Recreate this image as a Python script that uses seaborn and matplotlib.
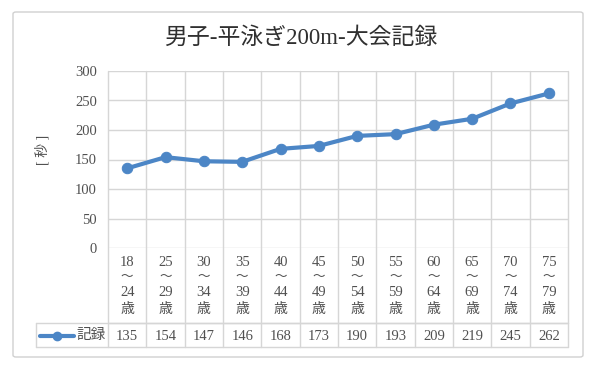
import numpy as np
import pandas as pd
import matplotlib
matplotlib.use("Agg")
import matplotlib.pyplot as plt
import seaborn as sns
from matplotlib.patches import FancyBboxPatch
from matplotlib.lines import Line2D

# --- data ---
age_from = ["18", "25", "30", "35", "40", "45", "50", "55", "60", "65", "70", "75"]
age_to = ["24", "29", "34", "39", "44", "49", "54", "59", "64", "69", "74", "79"]
records = [135, 154, 147, 146, 168, 173, 190, 193, 209, 219, 245, 262]
series_name = "記録"
title = "男子-平泳ぎ200m-大会記録"
y_label = "[ 秒 ]"
y_ticks = [0, 50, 100, 150, 200, 250, 300]

df = pd.DataFrame({"pos": np.arange(len(records)), "val": records})

sns.set_theme(style="white")
plt.rcParams['font.family'] = ['Liberation Serif', 'Noto Sans CJK JP', 'DejaVu Sans']

LINE = "#4c86c6"
GRID = "#d6d6d6"
TXT = "#505050"

fig = plt.figure(figsize=(5.99, 3.67), dpi=100)
fig.patch.set_facecolor("white")

# outer chart border
fig.patches.append(FancyBboxPatch((13 / 599, 1 - 357 / 367), 570 / 599, 345 / 367,
                                  boxstyle="round,pad=0,rounding_size=0.005",
                                  transform=fig.transFigure, fill=False,
                                  edgecolor="#d0d0d0", linewidth=1.0))

left, right = 108 / 599, 568 / 599
bottom, top = 1 - 248 / 367, 1 - 71 / 367
ax = fig.add_axes([left, bottom, right - left, top - bottom])

sns.lineplot(data=df, x="pos", y="val", ax=ax, color=LINE, linewidth=3,
             marker="o", markersize=7.5, markeredgecolor=LINE)

n = len(records)
ax.set_xlim(-0.5, n - 0.5)
ax.set_ylim(0, 300)
ax.set_yticks(y_ticks)
ax.set_yticklabels([str(t) for t in y_ticks], color=TXT, fontsize=10.5)
ax.set_xticks([])
ax.set_xlabel("")
ax.set_ylabel("")
ax.tick_params(axis="y", length=0, pad=8)
for s in ax.spines.values():
    s.set_visible(False)
for t in y_ticks:
    ax.axhline(t, color=GRID, linewidth=1, zorder=0)

# data table below the plot (axes-fraction heights)
h_px = 248 - 71
cat_bottom = -(323 - 248) / h_px
row_bottom = -(347 - 248) / h_px
trans = ax.get_xaxis_transform()

for b in np.arange(-0.5, n, 1.0):
    ax.plot([b, b], [row_bottom, 1], transform=trans, color=GRID, linewidth=1,
            clip_on=False, zorder=0)

# horizontal lines of the table
leg_x0 = (36 - 108) / (568 - 108)
ax.plot([-0.5, n - 0.5], [cat_bottom, cat_bottom], transform=trans, color=GRID,
        linewidth=1, clip_on=False)
ax.plot([leg_x0, 1], [cat_bottom, cat_bottom], transform=ax.transAxes, color=GRID,
        linewidth=1, clip_on=False)
ax.plot([leg_x0, 1], [row_bottom, row_bottom], transform=ax.transAxes, color=GRID,
        linewidth=1, clip_on=False)
ax.plot([leg_x0, leg_x0], [row_bottom, cat_bottom], transform=ax.transAxes, color=GRID,
        linewidth=1, clip_on=False)

def ypos(px):
    return -(px - 248) / h_px

for i in range(n):
    ax.text(i, ypos(262), age_from[i], transform=trans, ha="center", va="center",
            fontsize=10.5, color=TXT)
    ax.text(i, ypos(277), "～", transform=trans, ha="center", va="center",
            fontsize=9, color=TXT)
    ax.text(i, ypos(293), age_to[i], transform=trans, ha="center", va="center",
            fontsize=10.5, color=TXT)
    ax.text(i, ypos(310), "歳", transform=trans, ha="center", va="center",
            fontsize=10, color=TXT)
    ax.text(i, ypos(336), str(records[i]), transform=trans, ha="center", va="center",
            fontsize=10.5, color=TXT)

# legend key inside the table
lx0 = (40 - 108) / (568 - 108)
lx1 = (74 - 108) / (568 - 108)
ax.add_line(Line2D([lx0, lx1], [ypos(336)] * 2, transform=ax.transAxes, color=LINE,
                   linewidth=3, clip_on=False))
ax.add_line(Line2D([(lx0 + lx1) / 2], [ypos(336)], transform=ax.transAxes, color=LINE,
                   marker="o", markersize=6, clip_on=False))
ax.text((91 - 108) / (568 - 108), ypos(336), series_name, transform=ax.transAxes,
        ha="center", va="center", fontsize=10.5, color=TXT)

fig.text(301 / 599, 1 - 38 / 367, title, ha="center", va="center", fontsize=16.5,
         color="#303030")
fig.text(42 / 599, 1 - 150 / 367, y_label, ha="center", va="center", fontsize=10,
         rotation=90, color=TXT)

fig.savefig("out.png", dpi=100)
